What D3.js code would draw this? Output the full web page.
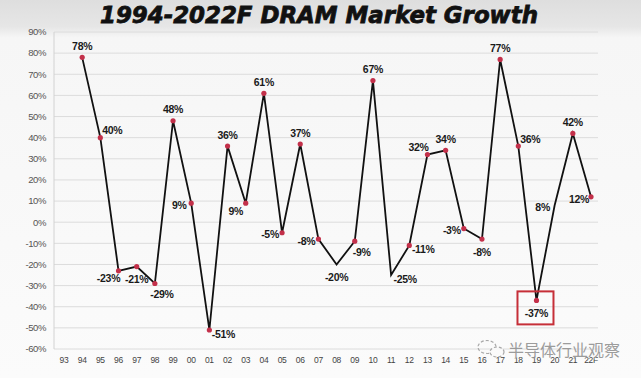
<!DOCTYPE html>
<html><head><meta charset="utf-8">
<script src="https://cdn.jsdelivr.net/npm/d3@7"></script>
<style>html,body{margin:0;padding:0;background:#fbfbfb;}svg{display:block;}</style>
</head><body>
<script>
// ---- data ----
const xTicks = ["93","94","95","96","97","98","99","00","01","02","03","04","05","06","07","08","09","10","11","12","13","14","15","16","17","18","19","20","21","22F"];
const years  = ["94","95","96","97","98","99","00","01","02","03","04","05","06","07","08","09","10","11","12","13","14","15","16","17","18","19","20","21","22F"];
const growth = [78,40,-23,-21,-29,48,9,-51,36,9,61,-5,37,-8,-20,-9,67,-25,-11,32,34,-3,-8,77,36,-37,8,42,12];
const yTicks = [90,80,70,60,50,40,30,20,10,0,-10,-20,-30,-40,-50,-60];
const noMarker = ["08","11","20"];
const labelPlace = ["t","rt","lb","b","bR","t","l","r","t","lb","t","l","t","l","b","bR","t","r","r","lt","t","l","b","t","rt","b","l","t","l"];
const highlightYear = "19";
const title = "1994-2022F DRAM Market Growth";
const watermark = "半导体行业观察";

const W = 641, H = 378;
const svg = d3.select("body").append("svg").attr("width", W).attr("height", H);

// background band
const defs = svg.append("defs");
const g1 = defs.append("linearGradient").attr("id","bg").attr("x1",0).attr("y1",0).attr("x2",0).attr("y2",1);
g1.append("stop").attr("offset","0").attr("stop-color","#dedede");
g1.append("stop").attr("offset","0.07").attr("stop-color","#e6e6e6");
g1.append("stop").attr("offset","0.1").attr("stop-color","#f6f6f6");
g1.append("stop").attr("offset","1").attr("stop-color","#fbfbfb");
svg.append("rect").attr("width",W).attr("height",H).attr("fill","url(#bg)");

const x = d3.scalePoint().domain(xTicks).range([64, 591]);
const y = d3.scaleLinear().domain([-60, 90]).range([349, 32]);

// gridlines
svg.append("g").selectAll("line").data(yTicks).join("line")
  .attr("x1", 54).attr("x2", 598)
  .attr("y1", d => y(d)).attr("y2", d => y(d))
  .attr("stroke", "#dcdcdc").attr("stroke-width", 1);
svg.append("line").attr("x1",54).attr("x2",54).attr("y1",y(90)).attr("y2",y(-60))
  .attr("stroke","#d2d2d2").attr("stroke-width",1);

// y axis labels
svg.append("g").selectAll("text").data(yTicks).join("text")
  .attr("x", 46).attr("y", d => y(d)).attr("dy","0.35em")
  .attr("text-anchor","end")
  .attr("font-family","Liberation Sans, Arial, sans-serif")
  .attr("font-size", 9.5).attr("letter-spacing","-0.4")
  .attr("fill","#555")
  .text(d => d + "%");

// x axis labels
svg.append("g").selectAll("text").data(xTicks).join("text")
  .attr("x", d => x(d)).attr("y", 360).attr("dy","0.35em")
  .attr("text-anchor","middle")
  .attr("font-family","Liberation Sans, Arial, sans-serif")
  .attr("font-size", 8.5).attr("letter-spacing","-0.3")
  .attr("fill","#444")
  .text(d => d);

const pts = years.map((yr,i) => ({yr, v: growth[i], p: labelPlace[i]}));

// line
svg.append("path").datum(pts)
  .attr("d", d3.line().x(d => x(d.yr)).y(d => y(d.v)))
  .attr("fill","none").attr("stroke","#111").attr("stroke-width",1.8)
  .attr("stroke-linejoin","miter");

// markers
svg.append("g").selectAll("circle").data(pts.filter(d => !noMarker.includes(d.yr))).join("circle")
  .attr("cx", d => x(d.yr)).attr("cy", d => y(d.v)).attr("r", 2.6)
  .attr("fill","#c3304a");

// labels
const off = {t:[0,-11], b:[0,13], bR:[7,11], r:[14,4], rt:[12,-7], l:[-12,2], lb:[-10,8], lt:[-9,-7]};
svg.append("g").selectAll("text").data(pts).join("text")
  .attr("x", d => x(d.yr) + off[d.p][0])
  .attr("y", d => y(d.v) + off[d.p][1])
  .attr("dy","0.35em").attr("text-anchor","middle")
  .attr("font-family","Liberation Sans, Arial, sans-serif")
  .attr("font-weight","bold").attr("font-size",10.5).attr("letter-spacing","-0.3")
  .attr("fill","#1a1a1a")
  .text(d => d.v + "%");

// highlight box
const hp = pts.find(d => d.yr === highlightYear);
svg.append("rect")
  .attr("x", x(hp.yr) - 19).attr("y", y(hp.v) - 9)
  .attr("width", 36).attr("height", 33)
  .attr("fill","none").attr("stroke","#c62f38").attr("stroke-width",2);

// title
svg.append("text").attr("x", 100).attr("y", 22.5)
  .attr("font-family","DejaVu Sans, sans-serif").attr("font-weight","bold")
  .attr("font-style","italic").attr("font-size",23)
  .attr("textLength", 438).attr("lengthAdjust","spacingAndGlyphs")
  .attr("fill","#111").attr("stroke","#111").attr("stroke-width",0.8)
  .text(title);

// watermark
const wm = svg.append("g").attr("opacity",0.85);
wm.append("ellipse").attr("cx",487).attr("cy",347).attr("rx",9).attr("ry",6.5)
  .attr("fill","none").attr("stroke","#9a9a9a").attr("stroke-width",1.2).attr("stroke-dasharray","3 2");
wm.append("ellipse").attr("cx",497).attr("cy",352).attr("rx",7).attr("ry",5)
  .attr("fill","#fbfbfb").attr("stroke","#9a9a9a").attr("stroke-width",1.2).attr("stroke-dasharray","3 2");
wm.append("text").attr("x", 508).attr("y", 350).attr("dy","0.35em")
  .attr("font-family","Noto Sans CJK SC, sans-serif").attr("font-size",16)
  .attr("textLength",112).attr("lengthAdjust","spacingAndGlyphs")
  .attr("fill","#8c8c8c").attr("stroke","#ffffff").attr("stroke-width",0.6)
  .attr("paint-order","stroke")
  .text(watermark);
</script>
</body></html>
